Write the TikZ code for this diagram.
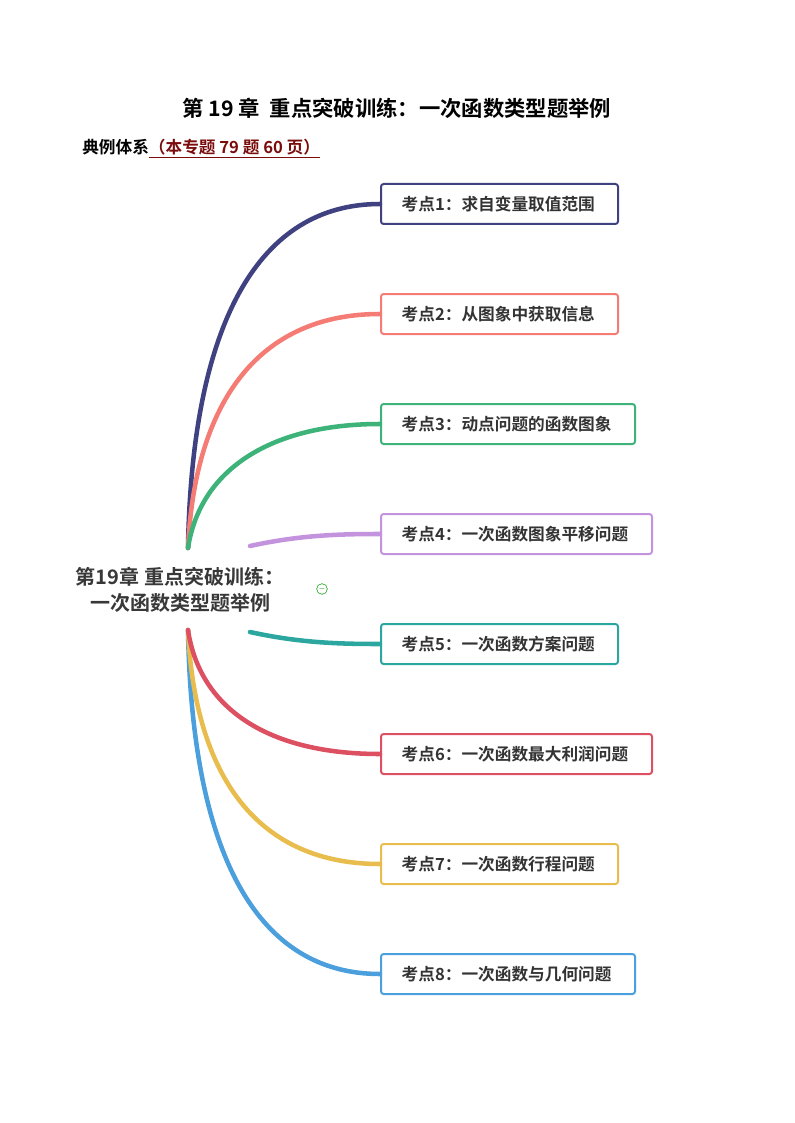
\documentclass[tikz,border=0pt]{standalone}
\usepackage{fontspec}
\setmainfont{Liberation Serif}
\newfontfamily\cjk{Noto Sans CJK SC}
\newfontfamily\cjkb{Noto Sans CJK SC Bold}
\definecolor{c1}{HTML}{3F4180}
\definecolor{c2}{HTML}{F47C74}
\definecolor{c3}{HTML}{3DB37A}
\definecolor{c4}{HTML}{C393DE}
\definecolor{c5}{HTML}{2BA7A0}
\definecolor{c6}{HTML}{DC5062}
\definecolor{c7}{HTML}{E8BD4E}
\definecolor{c8}{HTML}{4A9FDC}
\definecolor{darkred}{HTML}{7A0C0C}
\begin{document}
\begin{tikzpicture}[x=0.75pt,y=-0.75pt,
  kbox/.style={draw=#1,line width=1.5pt,rounded corners=2pt,minimum height=30pt,anchor=west,inner xsep=0pt,text=black!80,font=\cjkb\fontsize{12.5}{14}\selectfont},
  br/.style={line width=3.4pt,line cap=round,#1}]
\useasboundingbox (0,0) rectangle (794,1123);
\node[font=\cjkb\fontsize{16}{19}\selectfont] (title) at (397,108) {第 19 章\ \ 重点突破训练：一次函数类型题举例};
\node[anchor=west,font=\cjkb\fontsize{12.5}{15}\selectfont,inner sep=0pt] (sub) at (82,149) {典例体系\textcolor{darkred}{\underline{（本专题 79 题 60 页）}}};
\node[font=\cjkb\fontsize{15}{20}\selectfont,text=black!78,align=center] (root) at (180,590) {第19章 重点突破训练：\\一次函数类型题举例};
\node[draw=green!60!black,circle,inner sep=0pt,minimum size=8pt,font=\tiny,text=green!50!black] (m) at (322,589) {$-$};
\coordinate (u) at (188,548);
\coordinate (d) at (188,630);
\coordinate (u4) at (250,546);
\coordinate (d5) at (250,632);
\foreach \i/\y/\w/\t in {1/204/237/求自变量取值范围,2/314/237/从图象中获取信息,3/424/254/动点问题的函数图象,4/534/271/一次函数图象平移问题,5/644/237/一次函数方案问题,6/754/271/一次函数最大利润问题,7/864/237/一次函数行程问题,8/974/254/一次函数与几何问题}{
  \node[kbox=c\i,minimum width=\w*0.75pt,text width=\w*0.75pt-31pt,inner xsep=15.5pt,align=left] (k\i) at (380,\y) {考点\i：\t};
}
\draw[br=c1] (u) .. controls (192,320) and (260,204) .. (k1.west);
\draw[br=c2] (u) .. controls (195,400) and (260,314) .. (k2.west);
\draw[br=c3] (u) .. controls (200,470) and (270,424) .. (k3.west);
\draw[br=c4] (u4) .. controls (300,535) and (340,534) .. (k4.west);
\draw[br=c5] (d5) .. controls (300,643) and (340,644) .. (k5.west);
\draw[br=c8] (d) .. controls (192,860) and (260,974) .. (k8.west);
\draw[br=c7] (d) .. controls (195,780) and (260,864) .. (k7.west);
\draw[br=c6] (d) .. controls (200,710) and (270,754) .. (k6.west);
\end{tikzpicture}
\end{document}
